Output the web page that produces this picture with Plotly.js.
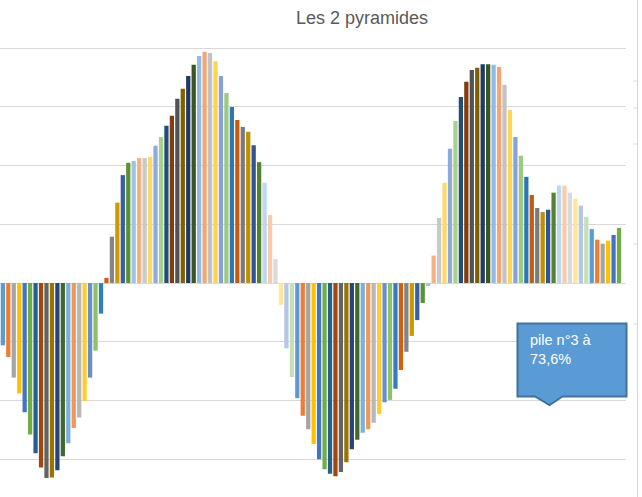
<!DOCTYPE html>
<html>
<head>
<meta charset="utf-8">
<script src="https://cdn.plot.ly/plotly-3.0.1.min.js"></script>
<style>html,body{margin:0;padding:0;background:#fff;}#chart{width:642px;height:497px;}</style>
</head>
<body>
<div id="chart"></div>
<script>
// Heights of each "pile" (bar) (gridline step = 10)
var pyramide1Neg = [-10.6, -12.6, -16.1, -18.8, -22.0, -25.8, -29.0, -31.4, -33.2, -33.1, -31.9, -29.5, -27.3, -24.7, -22.9, -20.1, -16.1, -11.5, -5.2];
var pyramide1Pos = [0.9, 7.9, 13.7, 18.4, 20.5, 20.8, 21.3, 21.3, 21.5, 23.4, 24.9, 26.8, 28.5, 31.4, 33.1, 35.3, 37.2, 38.7, 39.4, 39.2, 37.8, 35.3, 32.4, 30.0, 27.8, 26.6, 25.8, 23.5, 20.6, 17.1, 11.6, 4.1];
var pyramide2Neg = [-3.7, -11.1, -16.0, -19.6, -22.6, -24.9, -27.4, -30.0, -31.7, -32.5, -32.9, -32.2, -30.5, -28.3, -26.7, -25.5, -24.9, -23.8, -22.3, -20.3, -19.9, -18.0, -14.8, -11.7, -9.0, -6.3, -3.4, -0.5];
var pyramide2Pos = [4.7, 11.1, 17.1, 22.9, 27.6, 31.7, 34.3, 36.3, 36.7, 37.3, 37.3, 37.2, 36.8, 33.8, 29.5, 24.9, 21.7, 18.1, 15.0, 12.8, 12.1, 12.5, 15.4, 16.6, 16.6, 15.4, 14.4, 13.2, 11.3, 9.2, 7.4, 6.7, 7.2, 8.2, 9.4];

// Excel series colour cycle (54 colours)
var palette = [
  '#5B9BD5','#ED7D31','#A5A5A5','#FFC000','#4472C4','#70AD47',
  '#255E91','#9E480E','#636363','#997300','#264478','#43682B',
  '#7CAFDD','#F1975A','#B7B7B7','#FFCD33','#698ED0','#8CC168',
  '#327DC2','#D26012','#848484','#CC9A00','#3A5FA0','#5D9233',
  '#9DC3E6','#F4B183','#C9C9C9','#FFD966','#8FAADC','#A9D18E',
  '#1F4E79','#843C0C','#525252','#7F6000','#203864','#385723',
  '#8FBAE3','#F3A574','#C3C3C3','#FFD44F','#86A3D9','#9DCA7F',
  '#2E75B6','#C55A11','#7B7B7B','#BF9000','#2F5597','#548235',
  '#BDD7EE','#F8CBAD','#DBDBDB','#FFE699','#B4C7E7','#C5E0B4'
];

var titre = 'Les 2 pyramides';
var bulle = 'pile n°3 à<br>73,6%';

var values = pyramide1Neg.concat(pyramide1Pos, pyramide2Neg, pyramide2Pos);
var piles = values.map(function (_, i) { return i; });
var colors = values.map(function (_, i) { return palette[i % palette.length]; });

// pixel -> paper helpers (plot area: x 0..626, y 47..497)
var L = 0, R = 16, T = 47, B = 0, W = 642, H = 497;
var pw = W - L - R, ph = H - T - B;
function px(x) { return (x - L) / pw; }
function py(y) { return (H - B - y) / ph; }

var shapes = [];
// right-hand vertical line with small ticks (cropped neighbour axis)
shapes.push({type:'line', xref:'paper', yref:'paper', x0:px(637.5), x1:px(637.5), y0:py(0), y1:py(497), line:{color:'#D9D9D9', width:1}});
[81, 108, 144, 244, 324].forEach(function (t) {
  shapes.push({type:'line', xref:'paper', yref:'paper', x0:px(633.5), x1:px(637.5), y0:py(t), y1:py(t), line:{color:'#D9D9D9', width:1}});
});
// callout box with pointer
var cb = {l:517.5, r:626.5, t:323.5, b:396.5, p1:535, p2:562.5, tipx:549.5, tipy:405};
var path = 'M ' + px(cb.l) + ' ' + py(cb.t) +
  ' L ' + px(cb.r) + ' ' + py(cb.t) +
  ' L ' + px(cb.r) + ' ' + py(cb.b) +
  ' L ' + px(cb.p2) + ' ' + py(cb.b) +
  ' L ' + px(cb.tipx) + ' ' + py(cb.tipy) +
  ' L ' + px(cb.p1) + ' ' + py(cb.b) +
  ' L ' + px(cb.l) + ' ' + py(cb.b) + ' Z';
shapes.push({type:'path', xref:'paper', yref:'paper', path:path, fillcolor:'#5B9BD5', line:{color:'#41719C', width:2}});

var trace = {
  type: 'bar',
  x: piles,
  y: values,
  marker: {color: colors, line: {width: 0}},
  hoverinfo: 'x+y'
};

var layout = {
  width: W, height: H,
  margin: {l: L, r: R, t: T, b: B, pad: 0},
  paper_bgcolor: '#ffffff',
  plot_bgcolor: '#ffffff',
  showlegend: false,
  bargap: 0.22,
  title: {
    text: titre,
    font: {family: 'Liberation Sans, Arial, sans-serif', size: 18, color: '#595959'},
    xref: 'container', yref: 'container',
    x: 362 / W, y: 1 - 18 / H, xanchor: 'center', yanchor: 'middle'
  },
  xaxis: {
    range: [-0.523, 114.28],
    showgrid: false, zeroline: false, showticklabels: false, ticks: '', showline: false,
    fixedrange: true
  },
  yaxis: {
    range: [-36.44, 40.22],
    dtick: 10, tick0: 0,
    showgrid: true, gridcolor: '#D9D9D9', gridwidth: 1,
    zeroline: true, zerolinecolor: '#D9D9D9', zerolinewidth: 1,
    showticklabels: false, ticks: '', showline: false,
    fixedrange: true
  },
  shapes: shapes,
  annotations: [{
    xref: 'paper', yref: 'paper',
    x: px(528), y: py(330),
    xanchor: 'left', yanchor: 'top', align: 'left',
    text: bulle, showarrow: false,
    font: {family: 'Liberation Sans, Arial, sans-serif', size: 14.5, color: '#ffffff'}
  }]
};

Plotly.newPlot('chart', [trace], layout, {displayModeBar: false, staticPlot: true});
</script>
</body>
</html>
